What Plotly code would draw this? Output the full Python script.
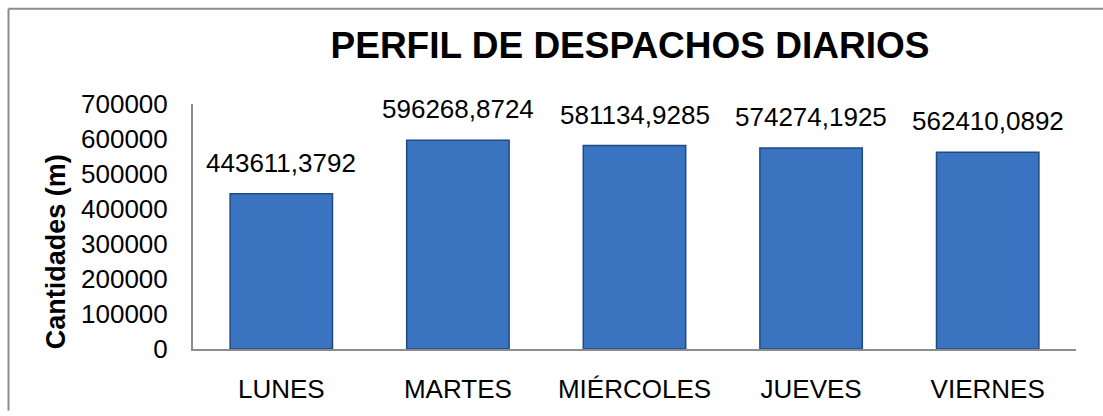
import plotly.graph_objects as go

# Daily dispatch profile (meters)
dias = ["LUNES", "MARTES", "MIÉRCOLES", "JUEVES", "VIERNES"]
cantidades = [443611.3792, 596268.8724, 581134.9285, 574274.1925, 562410.0892]
ticks_y = [0, 100000, 200000, 300000, 400000, 500000, 600000, 700000]

FONT = "Arial, Liberation Sans, sans-serif"

W, H = 1103, 416
L, R, T, B = 193, 27, 104, 61
pw, ph = W - L - R, H - T - B


def etiqueta(v):
    return f"{v:.4f}".replace(".", ",")


def px_x(x):
    return (x - L) / pw


def px_y(y):
    return (H - B - y) / ph


fig = go.Figure()
fig.add_trace(go.Bar(
    x=dias,
    y=cantidades,
    marker=dict(color="#3A73C0", line=dict(color="#1F4A84", width=1.5)),
    width=0.58,
    hoverinfo="x+y",
))

# value labels above each bar
for d, v in zip(dias, cantidades):
    fig.add_annotation(
        x=d, y=v, text=etiqueta(v), showarrow=False,
        yanchor="bottom", yshift=14,
        font=dict(family=FONT, size=26, color="#000000"),
    )

# y-axis title
fig.add_annotation(
    xref="paper", yref="paper", x=px_x(56), y=px_y(256),
    text="<b>Cantidades (m)</b>", textangle=-90, showarrow=False,
    xanchor="center", yanchor="middle",
    font=dict(family=FONT, size=27, color="#000000"),
)

# outer chart frame (top and left edges)
frame = dict(color="#8C8C8C", width=2)
fig.add_shape(type="line", xref="paper", yref="paper",
              x0=px_x(8.5), x1=px_x(W + 2), y0=px_y(6.5), y1=px_y(6.5), line=frame)
fig.add_shape(type="line", xref="paper", yref="paper",
              x0=px_x(8.5), x1=px_x(8.5), y0=px_y(6.5), y1=px_y(H + 2), line=frame)

fig.update_layout(
    width=W, height=H,
    margin=dict(l=L, r=R, t=T, b=B),
    paper_bgcolor="white", plot_bgcolor="white",
    showlegend=False,
    title=dict(
        text="<b>PERFIL DE DESPACHOS DIARIOS</b>",
        x=630 / W, xanchor="center", xref="container",
        y=1 - 45 / H, yanchor="middle", yref="container",
        font=dict(family=FONT, size=37, color="#000000"),
    ),
    xaxis=dict(
        showline=True, linecolor="#8C8C8C", linewidth=2,
        showgrid=False, ticks="",
        ticklabelstandoff=16,
        tickfont=dict(family=FONT, size=26, color="#000000"),
    ),
    yaxis=dict(
        range=[0, 700000], tickvals=ticks_y, tickformat="d",
        showline=True, linecolor="#8C8C8C", linewidth=2,
        showgrid=False, zeroline=False, ticks="",
        ticklabelstandoff=18,
        tickfont=dict(family=FONT, size=26, color="#000000"),
    ),
)

fig.write_html("out.html")
